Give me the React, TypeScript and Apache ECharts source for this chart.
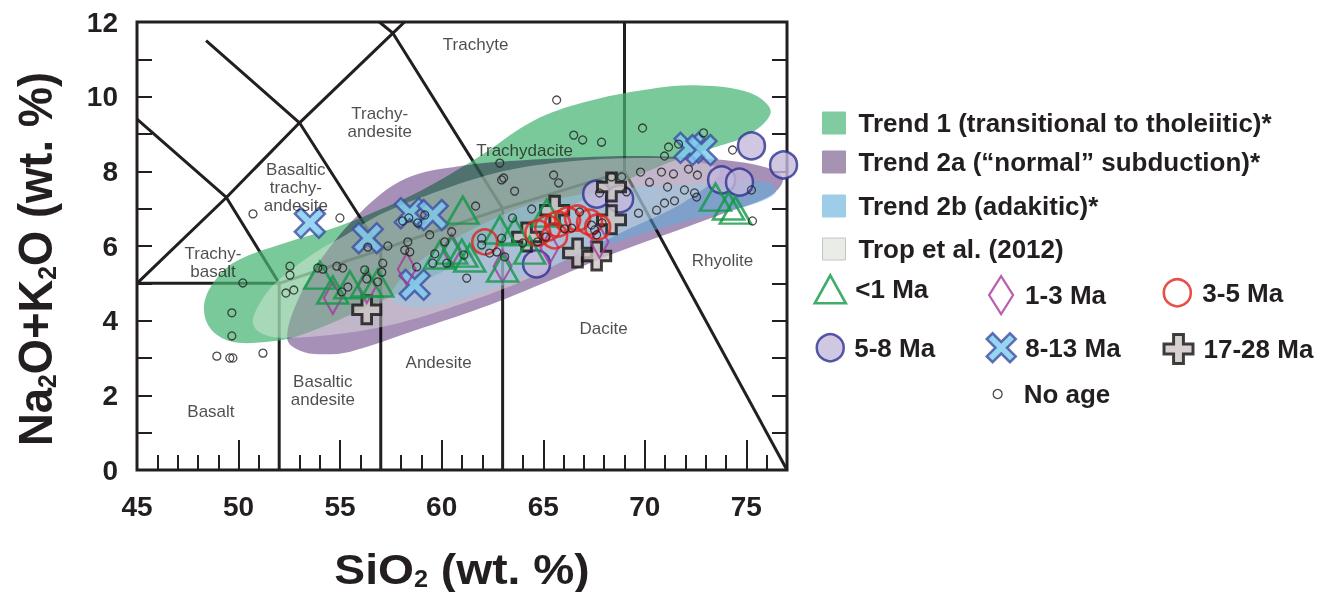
import { useEffect, useRef } from 'react';
import * as echarts from 'echarts';

const FONT = "'Liberation Sans', Arial, Helvetica, sans-serif";
const INK = '#231f20';

// Axis extents (SiO2 and total alkalis, wt. %)
const SIO2_EXTENT = [45, 77];
const ALK_EXTENT = [0, 12];

// TAS classification boundaries, each a polyline of [SiO2, Na2O+K2O]
const TAS_LINES: number[][][] = [
  [[45, 5], [52, 5], [57, 5.9], [63, 7], [69, 8]],
  [[52, 0], [52, 5]],
  [[57, 0], [57, 5.9]],
  [[63, 0], [63, 7]],
  [[69, 8], [77, 0]],
  [[69, 8], [69, 12]],
  [[45, 5], [49.4, 7.3], [53, 9.3], [57.6, 11.7], [58.17, 12]],
  [[45, 9.4], [49.4, 7.3], [52, 5]],
  [[48.4, 11.5], [53, 9.3], [57, 5.9]],
  [[56.93, 12], [57.6, 11.7], [63, 7]],
];

// Field names and where they sit in the diagram
const FIELD_LABELS: [string, number, number][] = [
  ['Trachyte', 61.67, 11.41],
  ['Trachy-\nandesite', 56.95, 9.32],
  ['Basaltic\ntrachy-\nandesite', 52.82, 7.58],
  ['Trachydacite', 64.08, 8.57],
  ['Trachy-\nbasalt', 48.74, 5.57],
  ['Rhyolite', 73.82, 5.6],
  ['Dacite', 67.97, 3.8],
  ['Andesite', 59.85, 2.87],
  ['Basaltic\nandesite', 54.15, 2.14],
  ['Basalt', 48.64, 1.58],
];

// Compositional trend envelopes, outlined as [SiO2, Na2O+K2O]
const TREND1_OUTLINE = [
  [48.3, 4.4], [48.8, 5.05], [49.9, 5.6], [52.4, 6.1], [54.5, 6.45], [56.2, 6.8], [58.5, 7.35],
  [60.5, 7.95], [62.0, 8.45], [64.5, 9.35], [67, 9.85], [70.2, 10.2], [72.7, 10.3], [75.2, 10.1],
  [76.2, 9.6], [75.2, 9.0], [73.5, 8.65], [71.5, 8.3], [68, 7.5], [64, 6.4], [60, 5.3],
  [56.5, 4.4], [53, 3.6], [51.2, 3.42], [49.6, 3.45], [48.6, 3.8],
];
const TREND2A_OUTLINE = [
  [52.4, 3.5], [53.0, 3.2], [54.0, 3.1], [55.5, 3.17], [58.6, 3.72], [62, 4.35], [65, 5.0],
  [68, 5.7], [71, 6.3], [74, 6.9], [76.2, 7.35], [76.8, 7.8], [76, 8.1], [74, 8.3], [71, 8.4],
  [68, 8.4], [64, 8.3], [61, 8.15], [58.2, 7.8], [56, 6.9], [54, 5.6], [52.8, 4.4],
];
const TREND2B_OUTLINE = [
  [57.5, 4.6], [59, 4.35], [61, 4.6], [64, 5.15], [67, 5.8], [70, 6.35], [73, 6.8], [75.2, 7.1],
  [76.4, 7.4], [76.3, 7.65], [75, 7.75], [72, 7.65], [69, 7.55], [66, 7.3], [64, 7.05],
  [61, 6.3], [58.5, 5.4],
];
const TROP_OUTLINE = [
  [50.7, 4.0], [51.2, 4.6], [52, 5.1], [53.7, 5.8], [55.3, 6.3], [57, 6.85], [60, 7.5], [63, 8.0],
  [66, 8.25], [69, 8.35], [72, 8.3], [73.7, 8.0], [72, 7.2], [69, 6.4], [66, 5.6], [63.5, 4.95],
  [61, 4.45], [58, 3.95], [55.3, 3.67], [52.0, 3.54], [51, 3.7],
];

// Samples by age group: [SiO2, Na2O+K2O]
const AGE_LT1 = [
  [54.0, 5.22], [54.64, 4.82], [55.48, 4.96], [56.31, 5.01], [56.85, 5.01], [59.9, 5.76],
  [60.49, 5.89], [60.99, 5.81], [61.04, 6.96], [61.38, 5.68], [62.86, 6.43], [63.0, 5.41],
  [63.59, 6.38], [65.17, 6.88], [64.33, 5.89], [73.48, 7.31], [74.12, 7.07], [74.46, 6.96],
];
const AGE_1_3 = [
  [54.64, 4.61], [56.31, 4.9], [58.28, 5.38], [60.49, 5.89], [63.0, 5.46], [65.31, 5.95], [67.77, 6.11],
];
const AGE_3_5 = [
  [62.12, 6.11], [64.73, 6.35], [65.22, 6.48], [65.71, 6.59], [66.2, 6.7], [66.69, 6.75],
  [67.28, 6.64], [67.68, 6.51], [65.56, 6.27],
];
const AGE_5_8 = [
  [64.67, 5.52], [67.63, 7.39], [68.76, 7.26], [73.78, 7.77], [74.66, 7.71], [75.25, 8.68], [76.83, 8.17],
];
const AGE_8_13 = [
  [53.51, 6.62], [56.36, 6.21], [58.43, 6.88], [59.56, 6.83], [58.67, 4.96], [72.2, 8.63], [72.79, 8.57],
];
const AGE_17_28 = [
  [56.31, 4.29], [64.18, 6.24], [65.56, 6.96], [68.36, 7.58], [68.36, 6.7], [66.69, 5.81], [67.63, 5.73],
];
const NO_AGE = [
  [50.71, 6.86], [54.99, 6.75], [50.21, 5.01], [52.53, 5.46], [52.53, 5.22], [49.67, 4.21],
  [49.67, 3.59], [48.93, 3.05], [49.57, 3.0], [49.72, 3.0], [51.2, 3.13], [52.33, 4.74],
  [52.72, 4.82], [53.9, 5.41], [54.15, 5.38], [54.84, 5.46], [55.13, 5.41], [55.08, 4.77],
  [55.38, 4.9], [56.21, 5.36], [56.31, 5.12], [56.36, 5.97], [57.35, 6.0], [57.1, 5.54],
  [57.05, 5.3], [56.85, 5.04], [58.33, 6.11], [58.18, 5.89], [58.43, 5.84], [58.77, 5.44],
  [58.08, 6.67], [58.38, 6.75], [58.82, 6.62], [59.17, 6.83], [59.41, 6.3], [60.49, 6.38],
  [60.15, 6.11], [59.66, 5.79], [59.56, 5.54], [60.25, 5.54],
  [61.09, 5.76], [61.23, 5.14], [61.97, 6.21], [61.97, 6.03], [62.36, 5.81], [62.71, 5.84],
  [62.95, 6.21], [63.1, 5.71], [63.99, 6.08], [64.72, 6.11], [65.12, 6.24], [66.05, 6.46],
  [66.4, 6.48], [66.79, 6.91], [67.38, 6.56], [67.53, 6.43], [67.63, 6.3], [67.9, 6.62],
  [62.86, 8.22], [62.95, 7.77], [63.05, 7.82], [63.59, 7.47], [65.51, 7.9], [65.76, 7.69],
  [61.67, 7.07], [64.43, 6.99], [63.49, 6.75], [65.66, 9.91], [66.5, 8.97], [66.94, 8.84],
  [67.87, 8.78], [69.89, 9.16], [67.77, 7.42], [68.36, 7.85], [68.86, 7.85],
  [69.79, 7.98], [70.23, 7.71], [70.82, 7.98], [71.41, 7.93], [72.15, 8.06], [72.59, 7.9],
  [71.17, 8.65], [70.97, 8.41], [71.66, 8.73], [72.89, 9.03], [74.32, 8.57], [71.12, 7.58],
  [71.95, 7.5], [72.45, 7.42], [72.55, 7.31], [70.97, 7.15], [71.46, 7.21], [70.58, 6.96],
  [69.69, 6.88], [75.25, 7.5], [75.3, 6.67], [69.1, 7.45],
];

const TREND1 = 'Trend 1 (transitional to tholeiitic)*';
const TREND2A = 'Trend 2a (\u201cnormal\u201d subduction)*';
const TREND2B = 'Trend 2b (adakitic)*';
const TROP = 'Trop et al. (2012)';

const X_SYMBOL = 'path://M20,0L50,30L80,0L100,20L70,50L100,80L80,100L50,70L20,100L0,80L30,50L0,20Z';
const PLUS_SYMBOL = 'path://M33,0L67,0L67,33L100,33L100,67L67,67L67,100L33,100L33,67L0,67L0,33L33,33Z';

const LEGEND_FONT_SIZE = 26;
const LEGEND_TEXT_HEIGHT = 30;

// The "normal subduction" envelope is composited with a multiply blend, so
// where it crosses Trend 1 the two tints darken rather than wash out.
const MULTIPLY_FILL = '#967daa';

function envelope(name: string, outline: number[][], fill: string, opacity: number, swatch: string) {
  return {
    type: 'custom',
    name,
    coordinateSystem: 'cartesian2d',
    silent: true,
    itemStyle: { color: swatch },
    data: outline,
    encode: { x: 0, y: 1 },
    renderItem: (params: any, api: any) => {
      if (params.dataIndex !== 0) return null;
      const points = outline.map((p) => api.coord(p));
      return {
        type: 'polygon',
        shape: { points, smooth: 0.35 },
        style: { fill, opacity, stroke: 'none' },
      };
    },
  };
}

const legendText = (pad: number) => ({
  fontFamily: FONT,
  fontSize: LEGEND_FONT_SIZE,
  fontWeight: 'bold',
  color: INK,
  padding: [0, 0, 0, pad],
});

function buildOption() {
  const tickLine = { color: INK, width: 2 };
  const axisLabelFont = { fontFamily: FONT, fontSize: 28, fontWeight: 'bold', color: INK };

  const lines = TAS_LINES.map((pts) => ({
    type: 'line',
    data: pts,
    symbol: 'none',
    silent: true,
    z: 1,
    lineStyle: { color: INK, width: 3 },
  }));

  const hollow = 'rgba(0,0,0,0)';

  const scatter = [
    { name: '5-8 Ma', data: AGE_5_8, symbol: 'circle', symbolSize: 27, itemStyle: { color: '#c4b9dc', borderColor: '#2e3192', borderWidth: 2.5 } },
    { name: '17-28 Ma', data: AGE_17_28, symbol: PLUS_SYMBOL, symbolSize: 28, itemStyle: { color: '#cdc6c3', borderColor: '#111111', borderWidth: 3 } },
    { name: '8-13 Ma', data: AGE_8_13, symbol: X_SYMBOL, symbolSize: 30, itemStyle: { color: '#7ecbef', borderColor: '#3f4ea0', borderWidth: 2.5 } },
    { name: '1-3 Ma', data: AGE_1_3, symbol: 'diamond', symbolSize: [18, 32], itemStyle: { color: hollow, borderColor: '#a8389a', borderWidth: 2.2 } },
    { name: '<1 Ma', data: AGE_LT1, symbol: 'triangle', symbolSize: [31, 27], itemStyle: { color: hollow, borderColor: '#119847', borderWidth: 2.6 } },
    { name: '3-5 Ma', data: AGE_3_5, symbol: 'circle', symbolSize: 25, itemStyle: { color: hollow, borderColor: '#e2231a', borderWidth: 2.6 } },
    { name: 'No age', data: NO_AGE, symbol: 'circle', symbolSize: 8, itemStyle: { color: hollow, borderColor: INK, borderWidth: 1.3 } },
  ].map((s) => ({ type: 'scatter', silent: true, z: 3, ...s }));

  const fieldSeries = {
    type: 'scatter',
    silent: true,
    z: 4,
    symbolSize: 0,
    data: FIELD_LABELS.map(([name, x, y]) => ({ name, value: [x, y] })),
    label: {
      show: true,
      position: 'inside',
      formatter: '{b}',
      fontFamily: FONT,
      fontSize: 17,
      lineHeight: 18,
      color: INK,
      align: 'center',
    },
  };

  const trendLegend = (name: string, cy: number, color: string, border: string) => ({
    data: [name],
    left: 822,
    top: cy - LEGEND_TEXT_HEIGHT / 2,
    padding: 0,
    icon: 'rect',
    itemWidth: 23,
    itemHeight: 22,
    selectedMode: false,
    itemStyle: { color, borderColor: border, borderWidth: 1 },
    textStyle: legendText(8),
  });

  const symbolLegend = (name: string, cx: number, cy: number, w: number, h: number, textX: number, bw: number) => ({
    data: [name],
    left: cx - w / 2,
    top: cy - Math.max(h, LEGEND_TEXT_HEIGHT) / 2,
    padding: 0,
    itemWidth: w,
    itemHeight: h,
    selectedMode: false,
    itemStyle: { borderWidth: bw },
    textStyle: legendText(textX - (cx + w / 2 + 5)),
  });

  const richTitle = {
    a: { fontFamily: FONT, fontSize: 42, fontWeight: 'bold', lineHeight: 42, verticalAlign: 'middle', fill: INK },
    s: { fontFamily: FONT, fontSize: 23, fontWeight: 'bold', lineHeight: 18, verticalAlign: 'bottom', fill: INK },
  };

  return {
    animation: false,
    grid: {
      left: 137,
      top: 22,
      width: 650,
      height: 448,
      show: true,
      borderColor: INK,
      borderWidth: 3,
      backgroundColor: 'rgba(0,0,0,0)',
    },
    xAxis: [
      {
        type: 'value',
        min: SIO2_EXTENT[0],
        max: SIO2_EXTENT[1],
        interval: 1,
        axisLine: { show: false },
        splitLine: { show: false },
        axisTick: { inside: true, length: 15, lineStyle: tickLine },
        axisLabel: {
          ...axisLabelFont,
          margin: 22,
          formatter: (v: number) => (v % 5 === 0 ? String(v) : ''),
        },
      },
      {
        type: 'value',
        min: SIO2_EXTENT[0],
        max: SIO2_EXTENT[1],
        interval: 5,
        position: 'bottom',
        axisLine: { show: false },
        splitLine: { show: false },
        axisTick: { inside: true, length: 30, lineStyle: tickLine },
        axisLabel: { show: false },
      },
    ],
    yAxis: [
      {
        type: 'value',
        min: ALK_EXTENT[0],
        max: ALK_EXTENT[1],
        interval: 1,
        position: 'left',
        axisLine: { show: false },
        splitLine: { show: false },
        axisTick: { inside: true, length: 15, lineStyle: tickLine },
        axisLabel: {
          ...axisLabelFont,
          margin: 19,
          formatter: (v: number) => (v % 2 === 0 ? String(v) : ''),
        },
      },
      {
        type: 'value',
        min: ALK_EXTENT[0],
        max: ALK_EXTENT[1],
        interval: 1,
        position: 'right',
        axisLine: { show: false },
        splitLine: { show: false },
        axisTick: { inside: true, length: 15, lineStyle: tickLine },
        axisLabel: { show: false },
      },
    ],
    legend: [
      trendLegend(TREND1, 125, '#80cb9f', '#80cb9f'),
      trendLegend(TREND2A, 164, '#a593b1', '#a593b1'),
      trendLegend(TREND2B, 208, '#9dcde9', '#9dcde9'),
      trendLegend(TROP, 251, '#e9ece7', '#c4c6c2'),
      symbolLegend('<1 Ma', 829, 289, 31, 28, 854, 2.6),
      symbolLegend('1-3 Ma', 1000, 294, 24, 38, 1024, 2.2),
      symbolLegend('3-5 Ma', 1176, 293, 27, 27, 1201, 2.6),
      symbolLegend('5-8 Ma', 829, 348, 27, 27, 853, 2.5),
      symbolLegend('8-13 Ma', 1000, 347, 29, 29, 1024, 2.5),
      symbolLegend('17-28 Ma', 1177, 348, 29, 29, 1202, 3),
      symbolLegend('No age', 997, 396, 9, 9, 1023, 1.3),
    ],
    graphic: [
      {
        type: 'text',
        x: 462,
        y: 569,
        scaleX: 1.1,
        silent: true,
        style: {
          text: '{a|SiO}{s|2}{a| (wt. %)}',
          align: 'center',
          verticalAlign: 'middle',
          fill: INK,
          rich: richTitle,
        },
      },
      {
        type: 'text',
        x: 36,
        y: 259,
        rotation: Math.PI / 2,
        scaleX: 1.08,
        scaleY: 1.15,
        silent: true,
        style: {
          text: '{a|Na}{s|2}{a|O+K}{s|2}{a|O (wt. %)}',
          align: 'center',
          verticalAlign: 'middle',
          fill: INK,
          rich: richTitle,
        },
      },
    ],
    series: [
      ...lines,
      envelope(TREND1, TREND1_OUTLINE, 'rgb(70,180,115)', 0.72, '#80cb9f'),
      envelope(TREND2A, TREND2A_OUTLINE, MULTIPLY_FILL, 0.85, '#a593b1'),
      envelope(TREND2B, TREND2B_OUTLINE, 'rgb(90,175,225)', 0.5, '#9dcde9'),
      envelope(TROP, TROP_OUTLINE, 'rgb(236,239,231)', 0.4, '#e9ece7'),
      ...scatter,
      fieldSeries,
    ],
  };
}

function applyMultiply(root: HTMLElement) {
  root.querySelectorAll('path').forEach((el) => {
    const fill = (el.getAttribute('fill') || '').toLowerCase();
    if (fill === MULTIPLY_FILL || fill === 'rgb(150,125,170)') {
      (el as SVGElement).style.mixBlendMode = 'multiply';
    }
  });
}

export default function App() {
  const ref = useRef<HTMLDivElement>(null);
  useEffect(() => {
    document.body.style.margin = '0';
    const el = ref.current!;
    const chart = echarts.init(el, null, { renderer: 'svg' });
    chart.on('finished', () => applyMultiply(el));
    chart.setOption(buildOption() as any);
    applyMultiply(el);
    return () => chart.dispose();
  }, []);
  return <div ref={ref} style={{ width: 1325, height: 592 }} />;
}
